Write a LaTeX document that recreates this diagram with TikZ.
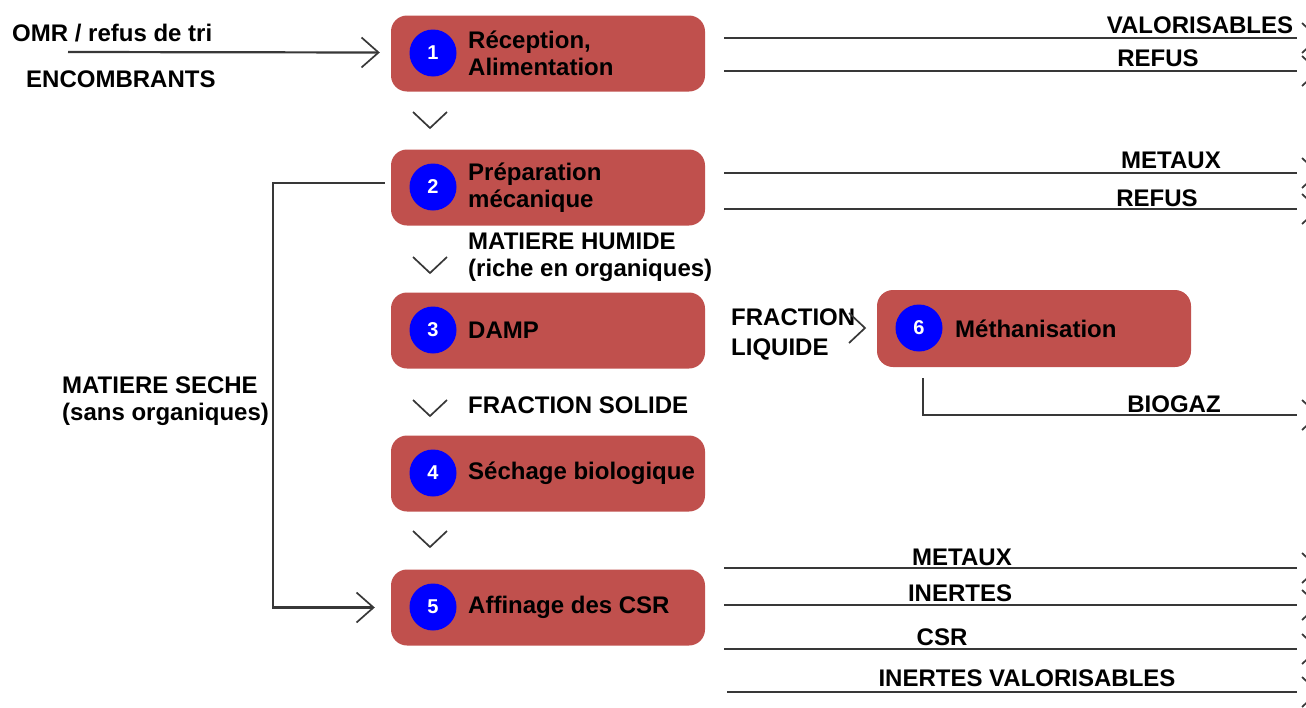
\documentclass[tikz,border=0pt]{standalone}
\usepackage{fontspec}
\setmainfont{Liberation Sans}
\usetikzlibrary{arrows.meta,positioning,calc}

\definecolor{boxred}{HTML}{C0504D}
\definecolor{numblue}{HTML}{0000FF}
\definecolor{linegray}{HTML}{383838}

\tikzset{
  stepbox/.style={fill=boxred, rounded corners=16pt, minimum width=314pt,
    minimum height=76pt, inner sep=0pt},
  num/.style={circle, fill=numblue, minimum size=47pt, inner sep=0pt,
    text=white, font=\bfseries\fontsize{20}{20}\selectfont},
  lbl/.style={inner sep=0pt, align=left, font=\bfseries\fontsize{24}{26.5}\selectfont},
  flow/.style={draw=linegray, line width=2.2pt},
  chev/.style={draw=linegray, line width=1.7pt},
  tipin/.style={-{Straight Barb[length=17pt, width=30pt, line width=1.7pt]}}
}
\newcommand{\chevdown}[1]{\draw[chev] ($(#1)+(-17,-16)$) -- (#1) -- ($(#1)+(17,-16)$);}
\newcommand{\chevright}[1]{\draw[chev] ($(#1)+(-16,-15)$) -- (#1) -- ($(#1)+(-16,15)$);}

\begin{document}
\begin{tikzpicture}[x=1pt, y=-1pt]
  \useasboundingbox (0,0) rectangle (1306,707);
  \clip (0,0) rectangle (1306,707);

  % process steps
  \node[stepbox] (b1) at (548,53.5) {};
  \node[stepbox] (b2) at (548,187.5) {};
  \node[stepbox] (b3) at (548,330.5) {};
  \node[stepbox] (b4) at (548,473.5) {};
  \node[stepbox] (b5) at (548,607.5) {};
  \node[stepbox, minimum height=77pt] (b6) at (1034,328.5) {};

  \node[num] (n1) at (433,53) {1};
  \node[num] (n2) at (433,187) {2};
  \node[num] (n3) at (433,330) {3};
  \node[num] (n4) at (433,473) {4};
  \node[num] (n5) at (433,607) {5};
  \node[num] (n6) at (919,328) {6};

  \node[lbl, anchor=west] (t1) at (468,53.5) {Réception,\\Alimentation};
  \node[lbl, anchor=west] (t2) at (468,187.5) {Préparation\\mécanique};
  \node[lbl, anchor=west] (t3) at (468,330.5) {DAMP};
  \node[lbl, anchor=west] (t4) at (468,473.5) {Séchage biologique};
  \node[lbl, anchor=west] (t5) at (468,607.5) {Affinage des CSR};
  \node[lbl, anchor=west] (t6) at (955,328.5) {Méthanisation};

  % input
  \node[lbl, anchor=base west] (omr) at (12,41) {OMR / refus de tri};
  \node[lbl, anchor=base west] (enc) at (26,87) {ENCOMBRANTS};
  \coordinate (in) at (68,52);
  \draw[flow, tipin] (in) -- ($(b1.west)+(-11,-1)$);

  % flow down
  \chevdown{430,128}
  \node[lbl, anchor=north west] (hum) at (468,233) {MATIERE HUMIDE\\(riche en organiques)};
  \chevdown{430,273}
  \node[lbl, anchor=base west] (sol) at (468,413.5) {FRACTION SOLIDE};
  \chevdown{430,416}
  \chevdown{430,547}

  % dry matter
  \node[lbl, anchor=north west] (sec) at (62,377) {MATIERE SECHE\\(sans organiques)};
  \draw[flow, tipin] ($(b2.west)+(-6,-4.5)$) -- ++(-112,0) |- ($(b5.west)+(-16,0)$);

  % liquid fraction
  \node[lbl, anchor=north west] (liq) at (731,309) {FRACTION\\[3.5pt]LIQUIDE};
  \chevright{865,328}

  % outputs
  \coordinate (o1) at (1297,38);
  \coordinate (o2) at (1297,71);
  \coordinate (o3) at (1297,173);
  \coordinate (o4) at (1297,209);
  \coordinate (o5) at (1297,415);
  \coordinate (o6) at (1297,568);
  \coordinate (o7) at (1297,605);
  \coordinate (o8) at (1297,649);
  \coordinate (o9) at (1297,692);

  \draw[flow] ($(b1.east)+(19,-15.5)$) -- (o1);
  \draw[flow] ($(b1.east)+(19,17.5)$) -- (o2);
  \draw[flow] ($(b2.east)+(19,-14.5)$) -- (o3);
  \draw[flow] ($(b2.east)+(19,21.5)$) -- (o4);
  \draw[flow] ($(b6.south west)+(46,11)$) |- (o5);
  \draw[flow] ($(b5.east)+(19,-39.5)$) -- (o6);
  \draw[flow] ($(b5.east)+(19,-2.5)$) -- (o7);
  \draw[flow] ($(b5.east)+(19,41.5)$) -- (o8);
  \draw[flow] ($(b5.east)+(22,84.5)$) -- (o9);

  \node[lbl, anchor=base] (v1) at (1200,33) {VALORISABLES};
  \node[lbl, anchor=base] (v2) at (1158,66.5) {REFUS};
  \node[lbl, anchor=base] (v3) at (1171,168.5) {METAUX};
  \node[lbl, anchor=base] (v4) at (1157,206.5) {REFUS};
  \node[lbl, anchor=base] (v5) at (1174,412.5) {BIOGAZ};
  \node[lbl, anchor=base] (v6) at (962,565.5) {METAUX};
  \node[lbl, anchor=base] (v7) at (960,601.5) {INERTES};
  \node[lbl, anchor=base] (v8) at (942,645.5) {CSR};
  \node[lbl, anchor=base] (v9) at (1027,686.5) {INERTES VALORISABLES};

  \chevright{1318,38}
  \chevright{1318,71}
  \chevright{1318,173}
  \chevright{1318,209}
  \chevright{1318,415}
  \chevright{1318,568}
  \chevright{1318,605}
  \chevright{1318,649}
  \chevright{1318,692}
\end{tikzpicture}
\end{document}
